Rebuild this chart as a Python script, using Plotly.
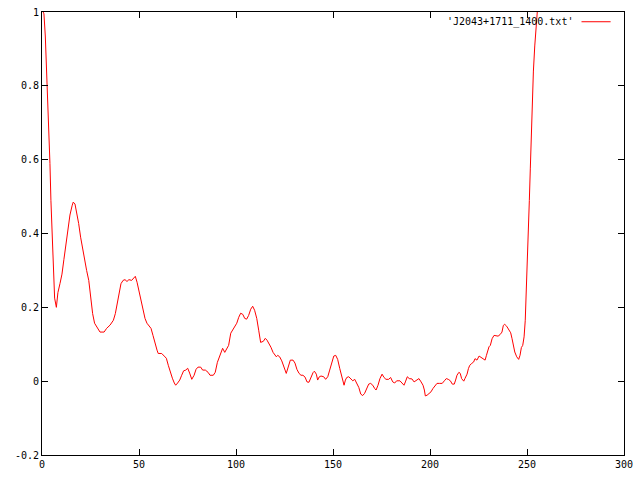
import plotly.graph_objects as go

# Data
x_vals = [0.6, 1.0, 1.7, 2.2, 2.7, 3.4, 4.1, 4.6, 5.2, 5.5, 6.2, 6.5, 7.4, 8.2, 9.3, 10.3, 11.3, 12.4, 13.4,
          14.4, 15.5, 16.1, 17.0, 17.9, 18.9, 19.9, 21.0, 22.0, 23.0, 24.1, 25.1, 26.1, 27.1, 28.5, 29.9,
          32.0, 33.3, 35.1, 36.8, 37.8, 38.7, 39.7, 40.7, 41.8, 42.8, 43.8, 44.8, 46.2, 47.3, 48.1, 49.0,
          50.0, 51.0, 52.1, 53.1, 54.1, 55.2, 56.2, 57.2, 58.2, 59.3, 59.9, 61.7, 63.0, 64.1, 65.1, 66.1,
          67.2, 68.2, 68.9, 69.9, 71.0, 72.0, 73.0, 74.1, 75.1, 76.1, 77.2, 78.4, 79.4, 80.4, 81.8, 82.8,
          84.2, 85.6, 86.6, 88.3, 89.3, 90.4, 91.4, 92.4, 93.1, 94.2, 95.2, 96.2, 97.3, 98.3, 99.3, 100.4,
          101.4, 102.4, 103.5, 104.5, 105.5, 106.5, 107.6, 108.6, 109.6, 110.7, 111.7, 112.7, 114.1, 115.1,
          116.0, 117.0, 118.0, 119.1, 120.1, 120.8, 121.5, 122.5, 123.6, 124.6, 125.3, 125.9, 126.6, 127.3,
          128.0, 129.4, 130.4, 131.4, 132.5, 133.5, 134.5, 135.6, 136.6, 137.6, 138.7, 139.7, 140.4, 141.4,
          142.1, 142.8, 143.8, 145.2, 146.2, 147.3, 148.3, 149.3, 150.4, 151.4, 152.4, 153.5, 154.3, 155.0,
          155.7, 156.4, 157.1, 158.1, 159.1, 160.2, 161.2, 162.2, 163.3, 164.3, 165.3, 166.3, 167.4, 168.4,
          169.4, 170.5, 171.5, 172.2, 173.2, 174.2, 175.3, 176.3, 177.3, 178.7, 179.7, 180.8, 181.8, 182.8,
          184.5, 185.6, 186.6, 187.3, 188.3, 189.3, 190.7, 191.8, 193.3, 194.3, 195.4, 196.4, 197.1, 197.6,
          198.5, 199.5, 200.5, 201.5, 202.6, 203.6, 205.0, 206.3, 207.4, 208.4, 209.4, 210.5, 211.5, 212.5,
          213.2, 213.9, 214.9, 215.6, 216.3, 217.4, 218.0, 219.1, 219.8, 220.5, 221.5, 222.5, 223.2, 224.2,
          225.3, 226.3, 227.3, 228.4, 229.1, 229.8, 230.4, 231.1, 232.0, 233.0, 234.0, 235.1, 236.1, 237.1,
          237.8, 238.5, 239.5, 240.6, 241.6, 242.3, 243.0, 243.7, 244.7, 245.7, 246.4, 247.1, 247.8, 248.5,
          249.1, 249.5, 249.8, 250.4, 250.9, 251.2, 251.7, 252.2, 252.7, 253.3, 254.0, 254.5, 255.0, 255.3]
y_vals = [1.0, 0.995, 0.935, 0.87, 0.79, 0.70, 0.59, 0.49, 0.40, 0.32, 0.265, 0.225, 0.20, 0.24, 0.265, 0.29, 0.33,
          0.37, 0.42, 0.45, 0.475, 0.485, 0.48, 0.457, 0.427, 0.39, 0.354, 0.332, 0.30, 0.273, 0.227, 0.183,
          0.157, 0.143, 0.133, 0.133, 0.143, 0.152, 0.165, 0.183, 0.21, 0.237, 0.264, 0.273, 0.275, 0.27,
          0.275, 0.273, 0.278, 0.284, 0.268, 0.246, 0.219, 0.192, 0.17, 0.157, 0.151, 0.143, 0.124, 0.102,
          0.084, 0.075, 0.075, 0.068, 0.062, 0.043, 0.024, 0.008, -0.005, -0.011, -0.005, 0.003, 0.016, 0.028,
          0.03, 0.035, 0.022, 0.005, 0.016, 0.032, 0.038, 0.038, 0.03, 0.03, 0.024, 0.016, 0.016, 0.024, 0.051,
          0.065, 0.084, 0.089, 0.078, 0.089, 0.097, 0.13, 0.138, 0.146, 0.157, 0.173, 0.184, 0.181, 0.17,
          0.168, 0.178, 0.195, 0.203, 0.192, 0.17, 0.138, 0.105, 0.108, 0.116, 0.111, 0.103, 0.092, 0.078,
          0.07, 0.066, 0.07, 0.066, 0.055, 0.043, 0.03, 0.021, 0.032, 0.049, 0.057, 0.057, 0.049, 0.032, 0.021,
          0.016, 0.016, 0.011, -0.002, -0.003, 0.011, 0.023, 0.027, 0.019, 0.003, 0.011, 0.014, 0.012, 0.005,
          0.012, 0.03, 0.052, 0.068, 0.07, 0.059, 0.034, 0.016, -0.002, -0.011, 0.003, 0.01, 0.012, 0.007,
          0.001, 0.005, -0.005, -0.017, -0.035, -0.039, -0.033, -0.02, -0.008, -0.006, -0.011, -0.02, -0.024,
          -0.011, 0.007, 0.019, 0.01, 0.005, 0.005, 0.01, -0.002, -0.005, 0.001, 0.001, -0.006, -0.011,
          -0.002, 0.012, 0.007, 0.006, -0.002, 0.005, 0.007, -0.002, -0.011, -0.024, -0.04, -0.038, -0.033,
          -0.029, -0.02, -0.011, -0.006, -0.006, -0.006, 0.001, 0.007, 0.005, 0.001, -0.008, -0.008, 0.003,
          0.016, 0.024, 0.021, 0.007, 0.0, 0.007, 0.019, 0.034, 0.043, 0.048, 0.052, 0.061, 0.057, 0.068,
          0.064, 0.06, 0.057, 0.07, 0.084, 0.093, 0.097, 0.115, 0.124, 0.124, 0.122, 0.126, 0.133, 0.151,
          0.154, 0.149, 0.138, 0.131, 0.115, 0.097, 0.079, 0.066, 0.059, 0.07, 0.091, 0.097, 0.12, 0.165,
          0.219, 0.264, 0.336, 0.408, 0.489, 0.575, 0.665, 0.75, 0.84, 0.908, 0.958, 0.985, 1.0]

x_ticks = [0, 50, 100, 150, 200, 250, 300]
y_ticks = [-0.2, 0, 0.2, 0.4, 0.6, 0.8, 1]
y_tick_labels = ["-0.2", "0", "0.2", "0.4", "0.6", "0.8", "1"]
series_name = "'J2043+1711_1400.txt'"

FONT = dict(family="DejaVu Sans Mono", size=10, color="black")

fig = go.Figure()
fig.add_trace(go.Scatter(x=x_vals, y=y_vals, mode="lines",
                         line=dict(color="#ff0000", width=1), showlegend=False,
                         cliponaxis=True, hoverinfo="skip"))

axis_common = dict(showgrid=False, zeroline=False, showline=True, linecolor="black",
                   linewidth=1, mirror="ticks", ticks="inside", ticklen=6,
                   tickcolor="black", tickwidth=1, tickfont=FONT, automargin=False)

fig.update_layout(
    width=640, height=480,
    margin=dict(l=42, r=16, t=12, b=25, autoexpand=False),
    paper_bgcolor="white", plot_bgcolor="white",
    xaxis=dict(range=[0, 300], tickvals=x_ticks, ticktext=[str(v) for v in x_ticks], **axis_common),
    yaxis=dict(range=[-0.2, 1], tickvals=y_ticks, ticktext=y_tick_labels, **axis_common),
    showlegend=False,
)

# gnuplot-style key: text then line sample, top right
fig.add_annotation(xref="paper", yref="paper", x=0.916, y=0.978, xanchor="right", yanchor="middle",
                   text=series_name, showarrow=False, font=FONT)
fig.add_shape(type="line", xref="paper", yref="paper", x0=0.927, x1=0.977, y0=0.978, y1=0.978,
              line=dict(color="#ff0000", width=1))

fig.write_html("out.html", config={"displayModeBar": False, "staticPlot": True},
               post_script="document.body.style.margin='0';document.body.style.overflow='hidden';")
